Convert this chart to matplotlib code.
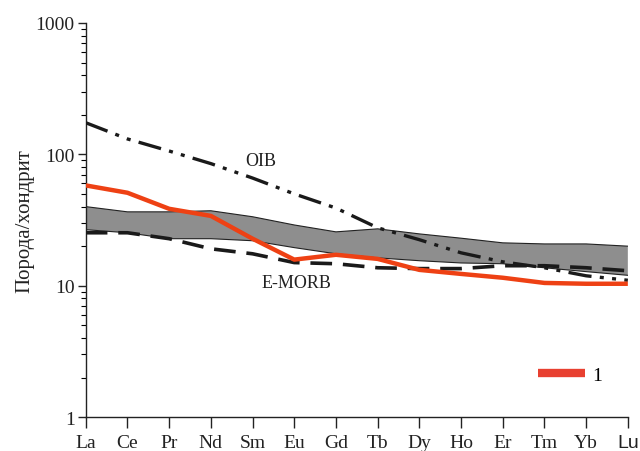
import numpy as np
import matplotlib.pyplot as plt
from matplotlib.ticker import LogLocator, NullFormatter, FixedLocator

plt.rcParams['font.family'] = ['Liberation Serif', 'DejaVu Serif']

elements = ['La', 'Ce', 'Pr', 'Nd', 'Sm', 'Eu', 'Gd', 'Tb', 'Dy', 'Ho', 'Er', 'Tm', 'Yb', 'Lu']

# образец 1
sample1 = [58, 51, 38.5, 34, 22.8, 15.8, 17.2, 16, 13.2, 12.3, 11.5, 10.5, 10.35, 10.35]
# серая область (поле)
band_upper = [40, 36.5, 36.5, 37.2, 33.5, 29, 25.7, 27.1, 24.8, 23, 21.2, 20.8, 20.8, 20]
band_lower = [26.7, 25.3, 22.8, 22.8, 22, 19.5, 17.5, 16.3, 15.5, 14.9, 14.7, 13.7, 12.8, 12]
# OIB и E-MORB
oib = [174, 131, 106, 85, 66, 50, 39, 27.6, 22.4, 17.8, 15.2, 13.7, 11.9, 11]
emorb = [25.3, 25.3, 22.8, 19.1, 17.5, 15, 14.7, 13.7, 13.5, 13.5, 14.2, 14.2, 13.7, 13]

x = np.arange(len(elements))

fig = plt.figure(figsize=(6.4, 4.52), dpi=100)
ax = fig.add_axes([0.134, 0.075, 0.847, 0.872])

ax.fill_between(x, band_lower, band_upper, facecolor='#8e8e8e', edgecolor='none', zorder=1)
ax.plot(x, band_upper, color='#222222', lw=0.8, zorder=2)
ax.plot(x, band_lower, color='#222222', lw=0.8, zorder=2)

ax.plot(x, emorb, color='#1a1a1a', lw=2.6, dashes=(6, 3), zorder=3)
ax.plot(x, oib, color='#1a1a1a', lw=2.4, dashes=(7, 2.5, 1.2, 2.5, 1.2, 2.5), zorder=4)
ax.plot(x, sample1, color='#ee4114', lw=3.2, solid_capstyle='butt', label='1', zorder=5)

ax.text(4.2, 89, 'OIB', fontsize=13, ha='center', va='center', color='#222222')
ax.text(5.05, 10.6, 'E-MORB', fontsize=13, ha='center', va='center', color='#222222')

ax.set_yscale('log')
ax.set_ylim(1, 1000)
ax.set_xlim(0, 13)
ax.yaxis.set_major_locator(FixedLocator([1, 10, 100, 1000]))
ax.set_yticklabels(['1', '10', '100', '1000'])
ax.yaxis.set_minor_locator(LogLocator(base=10, subs=np.arange(2, 10)))
ax.yaxis.set_minor_formatter(NullFormatter())
ax.set_xticks(x)
ax.set_xticklabels(elements)
ax.get_xticklabels()[-1].set_family('Liberation Sans')

ax.tick_params(axis='both', which='major', direction='out', length=6, width=1,
               labelsize=14, colors='#222222', pad=2)
ax.tick_params(axis='x', which='major', length=8, pad=4)
ax.tick_params(axis='y', which='minor', direction='out', length=3.5, width=0.8)
for s in ['top', 'right']:
    ax.spines[s].set_visible(False)
for s in ['left', 'bottom']:
    ax.spines[s].set_color('#222222')
    ax.spines[s].set_linewidth(1)

ax.set_ylabel('Порода/хондрит', fontsize=15, color='#222222', labelpad=1)

leg = ax.legend(loc=(0.82, 0.065), frameon=False, fontsize=14, handlelength=2.4,
                handletextpad=0.4)
leg.get_lines()[0].set_linewidth(6)
leg.get_lines()[0].set_color('#e84030')

fig.savefig('out.png', dpi=100)
